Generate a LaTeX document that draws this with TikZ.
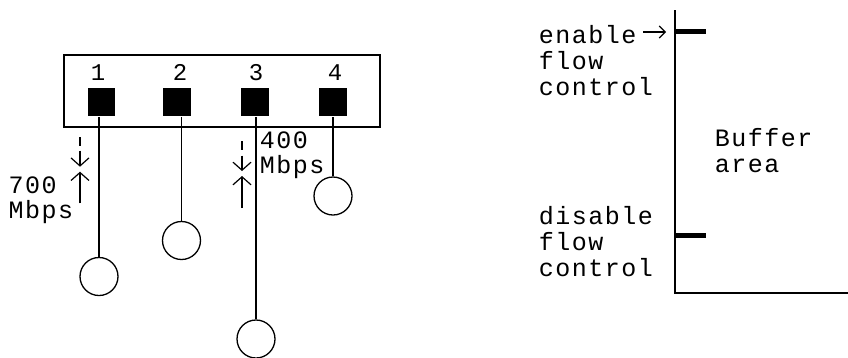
\documentclass[tikz,border=0pt]{standalone}
\usepackage{fontspec}
\setmonofont[LetterSpace=6]{Liberation Mono}
\usetikzlibrary{arrows.meta}
\begin{document}
\begin{tikzpicture}[x=1pt,y=-1pt,line width=1.5pt,
  lbl/.style={font=\ttfamily\fontsize{25}{25}\selectfont,inner sep=0pt,anchor=north west,align=left},
  rlbl/.style={font=\ttfamily\fontsize{25}{26}\selectfont,inner sep=0pt,anchor=north west,align=left},
  num/.style={font=\ttfamily\fontsize{24}{24}\selectfont,inner sep=0pt},
  port/.style={draw=none,fill=black,minimum size=27.5pt,inner sep=0pt},
  term/.style={draw,circle,minimum size=38pt,inner sep=0pt,line width=1.3pt},
  dimarr/.style={line width=1.2pt,-{Straight Barb[length=8pt,width=18pt]}},
  tick/.style={line width=5pt}]
\useasboundingbox (0,0) rectangle (848,357);
% switch box
\node[draw,minimum width=316pt,minimum height=72pt,inner sep=0pt] (box) at (222,91) {};
\node[port] (p1) at (101.5,102) {};
\node[port] (p2) at (177,102) {};
\node[port] (p3) at (255,102) {};
\node[port] (p4) at (333,102) {};
\node[num] (n1) at (98,72.5) {1};
\node[num] (n2) at (180,72.5) {2};
\node[num] (n3) at (256,72.5) {3};
\node[num] (n4) at (335,72.5) {4};
% terminals
\node[term] (c1) at (99,276.5) {};
\node[term] (c2) at (181.5,240.5) {};
\node[term] (c3) at (256,339) {};
\node[term] (c4) at (333,196) {};
\draw (c1.north) -- (c1.north |- p1.south);
\draw (c2.north) -- (c2.north |- p2.south);
\draw (c3.north) -- (c3.north |- p3.south);
\draw (c4.north) -- (c4.north |- p4.south);
% rate marks
\coordinate (a1) at (80,137);
\coordinate (a2) at (80,145.5);
\coordinate (a3) at (80,150.5);
\coordinate (a4) at (80,166.7);
\coordinate (a5) at (80,203.3);
\coordinate (a6) at (80,171.7);
\draw[line width=1.2pt] (a1) -- (a2);
\draw[dimarr] (a3) -- (a4);
\draw[dimarr] (a5) -- (a6);
\coordinate (b1) at (242,141);
\coordinate (b2) at (242,149.5);
\coordinate (b3) at (242,155.5);
\coordinate (b4) at (242,171);
\coordinate (b5) at (242,208);
\coordinate (b6) at (242,176);
\draw[line width=1.2pt] (b1) -- (b2);
\draw[dimarr] (b3) -- (b4);
\draw[dimarr] (b5) -- (b6);
\node[lbl] (r700) at (8,176.5) {700\\Mbps};
\node[lbl] (r400) at (259,131) {400\\Mbps};
% buffer
\coordinate (top) at (675,10);
\coordinate (corner) at (675,293);
\coordinate (right) at (849,293);
\draw (top) -- (corner) -- (right);
\coordinate (t1a) at (675,31);
\coordinate (t1b) at (706,31);
\coordinate (t2a) at (675,235);
\coordinate (t2b) at (706,235);
\draw[tick] (t1a) -- (t1b);
\draw[tick] (t2a) -- (t2b);
\node[rlbl] (en) at (538,24.5) {enable\\flow\\control};
\node[rlbl] (dis) at (538,206) {disable\\flow\\control};
\node[rlbl] (buf) at (714,127.5) {Buffer\\area};
\coordinate (e1) at (643,32);
\coordinate (e2) at (666,32);
\draw[line width=1.1pt,-{Straight Barb[length=6pt,width=12pt]}] (e1) -- (e2);
\end{tikzpicture}
\end{document}
